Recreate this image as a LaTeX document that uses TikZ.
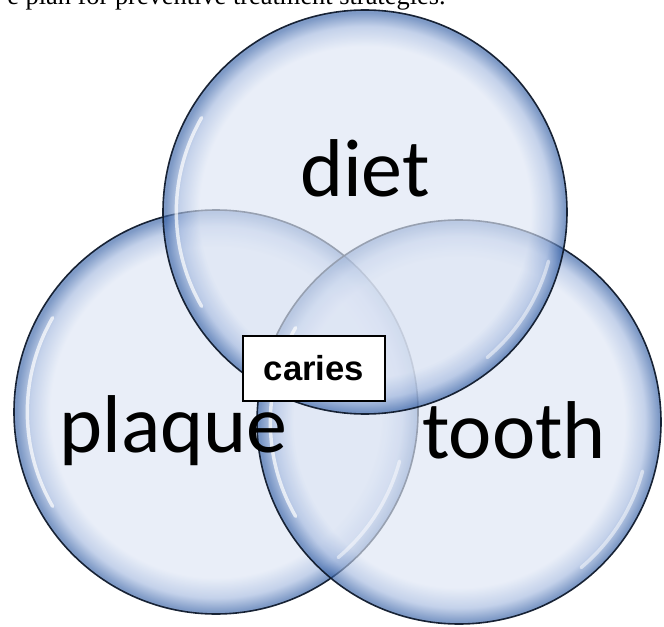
\documentclass[tikz,border=0pt]{standalone}
\usepackage{fontspec}
\setmainfont{Liberation Serif}
\newfontfamily\labelfont{Carlito}
\newfontfamily\boxfont{Liberation Sans}
\usetikzlibrary{positioning}

\definecolor{bubbleinner}{HTML}{DDE5F4}
\definecolor{bubblemid}{HTML}{A4B9DF}
\definecolor{bubblerim}{HTML}{3A64A8}
\definecolor{bubbleline}{HTML}{0F1A2C}
\pgfdeclareradialshading{bubbleglass}{\pgfpoint{0bp}{0bp}}{color(0bp)=(bubbleinner); color(20.5bp)=(bubbleinner); color(23bp)=(bubblemid); color(24.7bp)=(bubblerim); color(25bp)=(bubblerim); color(50bp)=(bubblerim)}

\begin{document}
\begin{tikzpicture}[x=0.75pt,y=0.75pt,
 bubble/.style={circle,minimum size=303pt,inner sep=0pt,outer sep=0pt,shade,shading=bubbleglass,fill opacity=0.65,draw=bubbleline,draw opacity=0.95,line width=1.2pt},
 word/.style={anchor=base,inner sep=0pt,font=\labelfont\fontsize{61.5}{61.5}\selectfont},
 shine/.style={white,line width=2.6pt,line cap=round,opacity=0.7},
 tag/.style={draw,fill=white,line width=0.8pt,minimum width=106.5pt,minimum height=48.75pt,inner sep=0pt,font=\boxfont\bfseries\fontsize{26}{26}\selectfont}]
\useasboundingbox (0,0) rectangle (664,626);
\clip (0,0) rectangle (664,626);
\node[anchor=base west,inner sep=0pt,font=\fontsize{19.8}{22}\selectfont] (caption) at (7,621) {e plan for preventive treatment strategies.};
\node[bubble] (plaque) at (216,214) {};
\node[bubble] (tooth) at (459,204) {};
\node[bubble] (diet) at (365,414) {};
\draw[shine] ([shift={(150:-10pt)}]plaque.150) arc[start angle=150,end angle=210,radius=141.5pt];
\draw[shine] ([shift={(150:-10pt)}]tooth.150) arc[start angle=150,end angle=210,radius=141.5pt];
\draw[shine] ([shift={(150:-10pt)}]diet.150) arc[start angle=150,end angle=210,radius=141.5pt];
\draw[shine,opacity=0.5] ([shift={(-50:-9pt)}]plaque.-50) arc[start angle=-50,end angle=-15,radius=142.5pt];
\draw[shine,opacity=0.5] ([shift={(-50:-9pt)}]tooth.-50) arc[start angle=-50,end angle=-15,radius=142.5pt];
\draw[shine,opacity=0.5] ([shift={(-50:-9pt)}]diet.-50) arc[start angle=-50,end angle=-15,radius=142.5pt];
\node[word] (dietword) at (365,429) {diet};
\node[word] (plaqueword) at (173.5,174) {plaque};
\node[word] (toothword) at (514,168) {tooth};
\node[tag] (caries) at (314,257.5) {caries};
\end{tikzpicture}
\end{document}
